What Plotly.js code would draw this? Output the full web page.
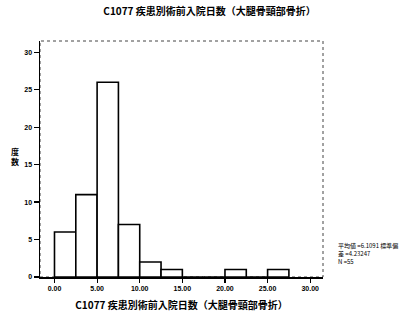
<!DOCTYPE html>
<html>
<head>
<meta charset="utf-8">
<script src="https://cdn.plot.ly/plotly-3.0.1.min.js"></script>
<style>html,body{margin:0;padding:0;background:#fff;}#chart{width:415px;height:320px;}</style>
</head>
<body>
<div id="chart"></div>
<script>
const binStarts = [0, 2.5, 5, 7.5, 10, 12.5, 15, 17.5, 20, 22.5, 25];
const counts = [6, 11, 26, 7, 2, 1, 0, 0, 1, 0, 1];
const binWidth = 2.5;
const xTickVals = [0, 5, 10, 15, 20, 25, 30];
const xTickText = ["0.00", "5.00", "10.00", "15.00", "20.00", "25.00", "30.00"];
const yTickVals = [0, 5, 10, 15, 20, 25, 30];
const titleText = "C1077 疾患別術前入院日数（大腿骨頸部骨折）";
const yTitle = "度<br>数";
const statsText = "平均値 =6.1091 標準偏<br>差 =4.23247<br>N =55";

const cjk = '"Noto Sans CJK JP", "Noto Sans", sans-serif';
const trace = {
  type: 'bar',
  x: binStarts.map(s => s + binWidth / 2),
  y: counts,
  width: binWidth,
  marker: {color: '#ffffff', line: {color: '#000000', width: 1.6}},
  hoverinfo: 'none'
};
const layout = {
  width: 415, height: 320,
  margin: {l: 40, r: 92, t: 41, b: 43},
  paper_bgcolor: '#fff', plot_bgcolor: '#fff',
  showlegend: false,
  font: {family: cjk, color: '#000'},
  title: {text: titleText, font: {family: cjk, size: 10, weight: 'bold', color: '#000'}, x: 0.505, xanchor: 'center', y: 0.965, yanchor: 'middle'},
  xaxis: {
    range: [-1.7, 31.5], tickvals: xTickVals, ticktext: xTickText,
    ticks: 'outside', ticklen: 4, tickwidth: 1.2, tickcolor: '#000',
    showline: true, linecolor: '#000', linewidth: 1.5,
    showgrid: false, zeroline: false,
    tickfont: {family: 'Arial, sans-serif', size: 7, color: '#000', weight: 'bold'},
    title: {text: titleText, font: {family: cjk, size: 10, weight: 'bold', color: '#000'}, standoff: 11}
  },
  yaxis: {
    range: [0, 31.5], tickvals: yTickVals,
    ticks: 'outside', ticklen: 5, tickwidth: 1.2, tickcolor: '#000',
    showline: true, linecolor: '#000', linewidth: 1.5,
    showgrid: false, zeroline: false,
    tickfont: {family: 'Arial, sans-serif', size: 7, color: '#000', weight: 'bold'}
  },
  shapes: [{type: 'rect', xref: 'paper', yref: 'paper', x0: 0, x1: 1, y0: 0, y1: 1,
    line: {color: '#444', width: 1, dash: 'dot'}, layer: 'below'}],
  annotations: [
    {text: yTitle, xref: 'paper', yref: 'paper', x: -0.09, y: 0.51, xanchor: 'center', yanchor: 'middle',
     showarrow: false, font: {family: cjk, size: 8, weight: 'bold', color: '#000'}},
    {text: statsText, xref: 'paper', yref: 'paper', x: 1.045, y: 0.1, xanchor: 'left', yanchor: 'middle', align: 'left',
     showarrow: false, font: {family: cjk, size: 6, color: '#000'}}
  ]
};
Plotly.newPlot('chart', [trace], layout, {displayModeBar: false, staticPlot: true});
</script>
</body>
</html>
